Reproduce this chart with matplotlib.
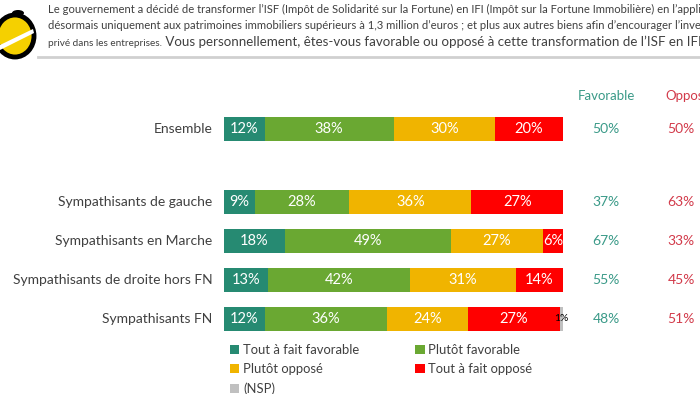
import matplotlib
matplotlib.use("Agg")
import matplotlib.pyplot as plt
from matplotlib.patches import Ellipse, Rectangle, Polygon
import numpy as np

plt.rcParams['font.family'] = ['Lato', 'DejaVu Sans']

categories = ["Ensemble", "Sympathisants de gauche", "Sympathisants en Marche",
              "Sympathisants de droite hors FN", "Sympathisants FN"]
series_names = ["Tout à fait favorable", "Plutôt favorable", "Plutôt opposé",
                "Tout à fait opposé", "(NSP)"]
tout_fav = [12, 9, 18, 13, 12]
plutot_fav = [38, 28, 49, 42, 36]
plutot_opp = [30, 36, 27, 31, 24]
tout_opp = [20, 27, 6, 14, 27]
nsp = [0, 0, 0, 0, 1]
favorable_tot = [50, 37, 67, 55, 48]
oppose_tot = [50, 63, 33, 45, 51]

colors = ["#268a72", "#6aa832", "#f0b400", "#ff0000", "#c0c0c0"]
text_col = "#404040"

W, H = 700, 394
fig = plt.figure(figsize=(W / 100, H / 100), dpi=100)

# decoration axes in pixel coords
ax0 = fig.add_axes([0, 0, 1, 1])
ax0.set_xlim(0, W)
ax0.set_ylim(H, 0)
ax0.axis("off")

# logo
ax0.add_patch(Ellipse((15, 36), 38, 42, facecolor="#f5d000", edgecolor="black", lw=3.5))
ax0.add_patch(Polygon([[0, 45], [33, 29], [34, 33], [0, 50]], closed=True,
                      facecolor="white", edgecolor="none"))
ax0.add_patch(Ellipse((18, 13), 12, 6, facecolor="black", edgecolor="none"))

# header text
hdr = dict(color=text_col, fontsize=8.1, va="baseline", ha="left")
ax0.text(48, 13, "Le gouvernement a décidé de transformer l’ISF (Impôt de Solidarité sur la Fortune) "
         "en IFI (Impôt sur la Fortune Immobilière) en l’appliquant", **hdr)
ax0.text(48, 29, "désormais uniquement aux patrimoines immobiliers supérieurs à 1,3 million d’euros ; "
         "et plus aux autres biens afin d’encourager l’investissement", **hdr)
t1 = ax0.text(48, 46, "privé dans les entreprises.", color=text_col, fontsize=7.2,
              va="baseline", ha="left")
ax0.annotate(" Vous personnellement, êtes-vous favorable ou opposé à cette transformation de l’ISF en IFI ?",
             xy=(1, 0), xycoords=t1, xytext=(0, 0), textcoords="offset points",
             color=text_col, fontsize=9.6, va="bottom", ha="left")
ax0.plot([38, 700], [57, 57], color="#d0d0d0", lw=2)

# bar axes: x 224..563 px, y px 90..340
left_px, right_px, top_px, bot_px = 224, 563, 90, 340
ax = fig.add_axes([left_px / W, 1 - bot_px / H, (right_px - left_px) / W, (bot_px - top_px) / H])
ax.set_xlim(0, 100)
row_px = 39.0
ypos = np.array([0, 1.87, 2.87, 3.87, 4.87])
ax.set_ylim((bot_px - 129) / row_px, (top_px - 129) / row_px)
ax.axis("off")

series = [tout_fav, plutot_fav, plutot_opp, tout_opp, nsp]
left = np.zeros(len(categories))
handles = []
for name, vals, col in zip(series_names, series, colors):
    vals = np.array(vals, dtype=float)
    b = ax.barh(ypos, vals, left=left, height=0.62, color=col, label=name)
    handles.append(b)
    for y, l, v in zip(ypos, left, vals):
        if v <= 0:
            continue
        if v < 3:
            ax.text(l + v / 2, y, f"{int(v)}%", ha="center", va="center",
                    color="black", fontsize=7.5)
        else:
            ax.text(l + v / 2, y, f"{int(v)}%", ha="center", va="center",
                    color="white", fontsize=10.5)
    left = left + vals

for y, c in zip(ypos, categories):
    ax.text(-3.5, y, c, ha="right", va="center", color=text_col, fontsize=10)

# totals columns
fav_x = (606 - left_px) / (right_px - left_px) * 100
opp_x = (681 - left_px) / (right_px - left_px) * 100
hdr_y = (96 - 129) / row_px
ax.text(fav_x, hdr_y, "Favorable", ha="center", va="center", color="#3a9a88",
        fontsize=9.5, clip_on=False)
ax.text(opp_x + 2, hdr_y, "Opposé", ha="center", va="center", color="#d23a4a",
        fontsize=9.5, clip_on=False)
for y, f, o in zip(ypos, favorable_tot, oppose_tot):
    ax.text(fav_x, y, f"{f}%", ha="center", va="center", color="#3a9a88", fontsize=10, clip_on=False)
    ax.text(opp_x, y, f"{o}%", ha="center", va="center", color="#d23a4a", fontsize=10, clip_on=False)

order = [0, 2, 4, 1, 3]
leg = fig.legend([handles[i] for i in order], [series_names[i] for i in order],
                 ncol=2, loc="upper left", bbox_to_anchor=(230 / W, 1 - 344 / H),
                 frameon=False, fontsize=9.4, handlelength=0.7, handleheight=0.7,
                 handletextpad=0.3, columnspacing=4.3, labelspacing=0.55,
                 borderpad=0, borderaxespad=0, labelcolor=text_col)

fig.savefig("out.png", dpi=100)
